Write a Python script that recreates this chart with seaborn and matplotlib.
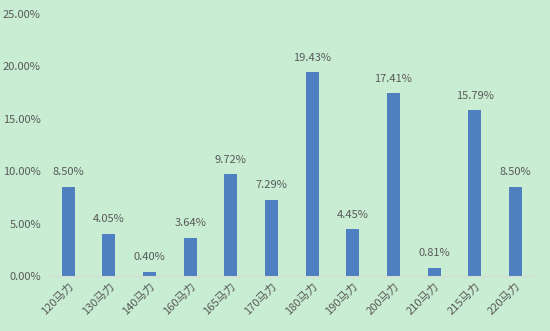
import matplotlib
matplotlib.use("Agg")
import matplotlib.pyplot as plt
import seaborn as sns
import pandas as pd
from matplotlib.ticker import FuncFormatter

categories = ["120马力", "130马力", "140马力", "160马力", "165马力", "170马力",
              "180马力", "190马力", "200马力", "210马力", "215马力", "220马力"]
shares = [8.50, 4.05, 0.40, 3.64, 9.72, 7.29, 19.43, 4.45, 17.41, 0.81, 15.79, 8.50]
y_ticks = [0, 5, 10, 15, 20, 25]

BG = "#c8edd2"
BAR = "#4e7fc0"
TXT = "#595959"

sns.set_theme(style="white")
plt.rcParams["font.family"] = ["Noto Sans CJK SC", "DejaVu Sans"]

df = pd.DataFrame({"category": categories, "share": shares})

fig = plt.figure(figsize=(5.5, 3.31), dpi=100, facecolor=BG)
ax = fig.add_axes([0.087, 0.166, 0.887, 0.792])
ax.set_facecolor(BG)

sns.barplot(data=df, x="category", y="share", color=BAR, saturation=1,
            width=0.32, linewidth=0, ax=ax)

for i, v in enumerate(shares):
    ax.text(i, v + 0.9, f"{v:.2f}%", ha="center", va="bottom",
            fontsize=8, color=TXT)

ax.set_ylim(0, 25)
ax.set_xlim(-0.5, len(categories) - 0.5)
ax.set_yticks(y_ticks)
ax.yaxis.set_major_formatter(FuncFormatter(lambda v, p: f"{v:.2f}%"))
ax.tick_params(axis="y", labelsize=8, labelcolor=TXT, length=0, pad=5)
ax.tick_params(axis="x", labelsize=8, labelcolor=TXT, length=0, pad=3)
plt.setp(ax.get_xticklabels(), rotation=45, ha="right", rotation_mode="anchor")

ax.set_xlabel("")
ax.set_ylabel("")
for s in ["top", "right", "left"]:
    ax.spines[s].set_visible(False)
ax.spines["bottom"].set_color("#d9d9d9")
ax.spines["bottom"].set_linewidth(0.8)

fig.savefig("out.png", dpi=100, facecolor=BG)
